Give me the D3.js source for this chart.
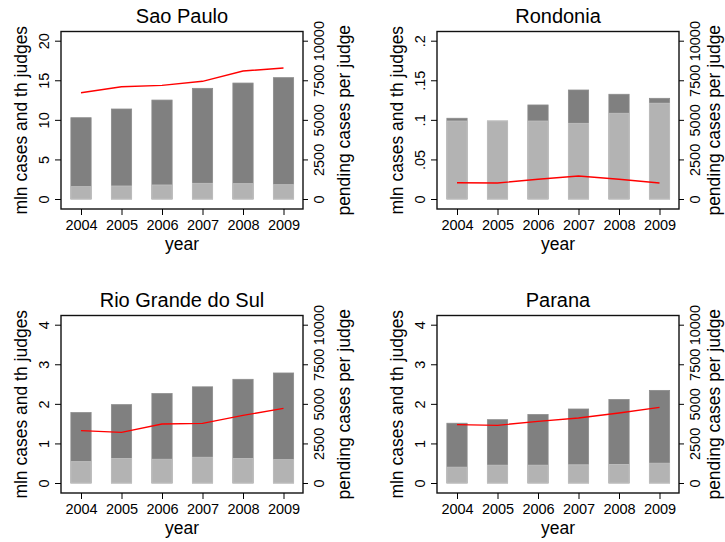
<!DOCTYPE html>
<html>
<head>
<meta charset="utf-8">
<script src="https://cdn.jsdelivr.net/npm/d3@7"></script>
<style>
  body { margin: 0; background: #fff; }
  svg { display: block; }
  text { font-family: "Liberation Sans", Arial, Helvetica, sans-serif; fill: #000; }
</style>
</head>
<body>
<svg id="chart" width="725" height="542"></svg>
<script>
// Years on the x axis
const years = [2004, 2005, 2006, 2007, 2008, 2009];

// Panel titles
const stateNames = ["Sao Paulo", "Rondonia", "Rio Grande do Sul", "Parana"];

// Pending cases (millions) – dark bars
const pendingSaoPaulo  = [10.27, 11.37, 12.5, 13.98, 14.65, 15.33];
const pendingRondonia  = [0.102, 0.0985, 0.1188, 0.1377, 0.1323, 0.1272];
const pendingRioGrande = [1.78, 1.98, 2.26, 2.43, 2.62, 2.78];
const pendingParana    = [1.51, 1.60, 1.73, 1.87, 2.11, 2.34];

// Judges (thousands) – light bars
const judgesSaoPaulo  = [1.56, 1.64, 1.77, 1.98, 1.94, 1.81];
const judgesRondonia  = [0.0985, 0.0985, 0.0985, 0.0956, 0.1083, 0.121];
const judgesRioGrande = [0.54, 0.62, 0.60, 0.65, 0.62, 0.59];
const judgesParana    = [0.40, 0.45, 0.45, 0.46, 0.47, 0.50];

// Pending cases per judge – red line, right axis
const perJudgeSaoPaulo  = [6715, 7094, 7180, 7435, 8086, 8275];
const perJudgeRondonia  = [1030, 1010, 1245, 1453, 1245, 1010];
const perJudgeRioGrande = [3308, 3200, 3725, 3769, 4274, 4716];
const perJudgeParana    = [3687, 3643, 3895, 4103, 4419, 4779];

// Left axis ticks per panel
const leftTicksSaoPaulo  = [0, 5, 10, 15, 20];
const leftTicksRondonia  = [0, 0.05, 0.1, 0.15, 0.2];
const leftTicksRioGrande = [0, 1, 2, 3, 4];
const leftTicksParana    = [0, 1, 2, 3, 4];

// Right axis ticks (shared)
const rightTicks = [0, 2500, 5000, 7500, 10000];

const panels = [
  { name: stateNames[0], pending: pendingSaoPaulo,  judges: judgesSaoPaulo,  perJudge: perJudgeSaoPaulo,  ticks: leftTicksSaoPaulo },
  { name: stateNames[1], pending: pendingRondonia,  judges: judgesRondonia,  perJudge: perJudgeRondonia,  ticks: leftTicksRondonia },
  { name: stateNames[2], pending: pendingRioGrande, judges: judgesRioGrande, perJudge: perJudgeRioGrande, ticks: leftTicksRioGrande },
  { name: stateNames[3], pending: pendingParana,    judges: judgesParana,    perJudge: perJudgeParana,    ticks: leftTicksParana }
];

const svg = d3.select("#chart");
const offsets = [[0, 0], [376, 0], [0, 284], [376, 284]];

// Geometry inside one panel
const box = { left: 61, right: 303, top: 31.5, bottom: 209 };
const yBottom = 199, yTop = 40.7;
const cx = (box.left + box.right) / 2;
const cy = (box.top + box.bottom) / 2;

const fmtLeft = d => d === 0 ? "0" : String(d).replace(/^0\./, ".");

panels.forEach((p, i) => {
  const g = svg.append("g").attr("transform", `translate(${offsets[i][0]},${offsets[i][1]})`);
  const rightColumn = i % 2 === 1;

  const x = d3.scalePoint().domain(years).range([81, 283.5]);
  const step = x.step();
  const barW = step * 0.5;
  const yL = d3.scaleLinear().domain([0, d3.max(p.ticks)]).range([yBottom, yTop]);
  const yR = d3.scaleLinear().domain([0, 10000]).range([yBottom, yTop]);

  // pending cases bars
  g.selectAll("rect.pending").data(years).join("rect")
    .attr("class", "pending")
    .attr("x", d => x(d) - barW / 2)
    .attr("width", barW)
    .attr("y", (d, j) => yL(p.pending[j]))
    .attr("height", (d, j) => yL(0) - yL(p.pending[j]))
    .attr("fill", "#808080")
    .attr("stroke", "#8c8c8c")
    .attr("stroke-width", 0.8);

  // judges bars
  g.selectAll("rect.judges").data(years).join("rect")
    .attr("class", "judges")
    .attr("x", d => x(d) - barW / 2)
    .attr("width", barW)
    .attr("y", (d, j) => yL(p.judges[j]))
    .attr("height", (d, j) => yL(0) - yL(p.judges[j]))
    .attr("fill", "#b3b3b3")
    .attr("stroke", "#c2c2c2")
    .attr("stroke-width", 0.8);

  // cases per judge line
  const line = d3.line()
    .x((d, j) => x(years[j]))
    .y(d => yR(d));
  g.append("path")
    .datum(p.perJudge)
    .attr("d", line)
    .attr("fill", "none")
    .attr("stroke", "#ff0000")
    .attr("stroke-width", 1.4);

  // plot frame
  g.append("rect")
    .attr("x", box.left).attr("y", box.top)
    .attr("width", box.right - box.left).attr("height", box.bottom - box.top)
    .attr("fill", "none").attr("stroke", "#111").attr("stroke-width", 1.4);

  // bottom axis
  const xAxis = g.append("g").attr("transform", `translate(0,${box.bottom})`)
    .call(d3.axisBottom(x).tickSize(6).tickPadding(6).tickSizeOuter(0));
  xAxis.select(".domain").remove();
  xAxis.selectAll("text").attr("font-size", 14.5).attr("dy", null).attr("y", 21);

  // left axis
  const lAxis = g.append("g").attr("transform", `translate(${box.left},0)`)
    .call(d3.axisLeft(yL).tickValues(p.ticks).tickFormat(fmtLeft).tickSize(6).tickSizeOuter(0));
  lAxis.select(".domain").remove();
  lAxis.selectAll("text")
    .attr("font-size", 14.5).attr("text-anchor", "middle")
    .attr("x", null).attr("dy", null)
    .attr("transform", "translate(-12,0) rotate(-90)");

  // right axis
  const rAxis = g.append("g").attr("transform", `translate(${box.right},0)`)
    .call(d3.axisRight(yR).tickValues(rightTicks).tickFormat(d3.format("d")).tickSize(5).tickSizeOuter(0));
  rAxis.select(".domain").remove();
  rAxis.selectAll("text")
    .attr("font-size", 14.5).attr("text-anchor", "middle")
    .attr("x", null).attr("dy", null)
    .attr("transform", "translate(21,0) rotate(-90)");

  g.selectAll(".tick line").attr("stroke", "#000").attr("stroke-width", 1);

  // titles
  g.append("text").attr("x", cx).attr("y", 23)
    .attr("text-anchor", "middle").attr("font-size", 20).text(p.name);
  g.append("text").attr("x", cx).attr("y", 250)
    .attr("text-anchor", "middle").attr("font-size", 17.5).text("year");
  g.append("text").attr("transform", `translate(27,${cy}) rotate(-90)`)
    .attr("text-anchor", "middle").attr("font-size", 17.5).text("mln cases and th judges");
  g.append("text").attr("transform", `translate(${rightColumn ? 344 : 350},${cy}) rotate(-90)`)
    .attr("text-anchor", "middle").attr("font-size", 17.5).text("pending cases per judge");
});
</script>
</body>
</html>
